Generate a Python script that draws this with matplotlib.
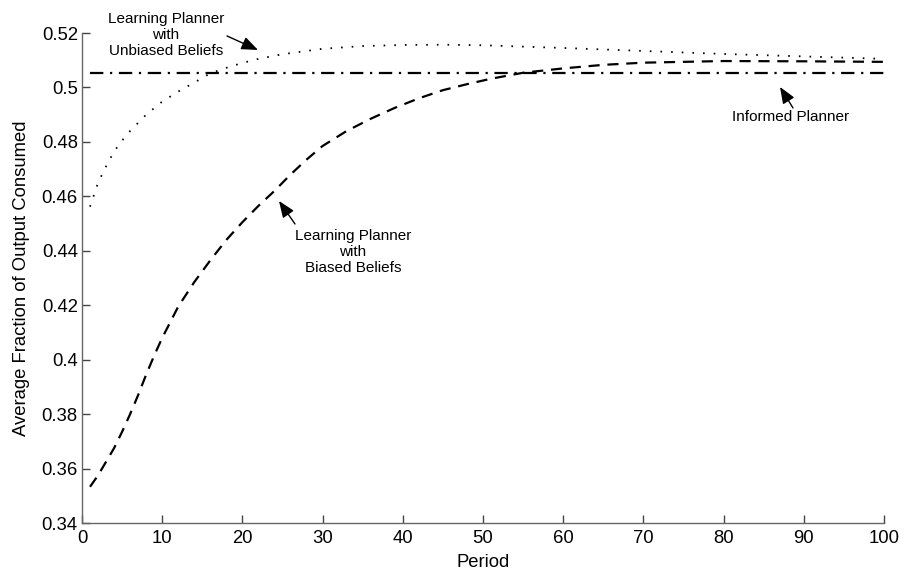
import matplotlib
matplotlib.use("Agg")
import matplotlib.pyplot as plt

plt.rcParams['font.family'] = ['Liberation Sans', 'DejaVu Sans']

# Learning planner with biased beliefs (dashed)
biased_period = [1, 2, 3, 4, 5, 6, 7, 8, 9, 10, 12, 14, 16, 18, 20, 22, 24, 26, 28, 30,
                 33, 36, 39, 42, 45, 48, 51, 55, 60, 65, 70, 80, 90, 100]
biased_value = [0.3533, 0.3575, 0.3625, 0.3675, 0.3735, 0.380, 0.387, 0.3945, 0.4015, 0.408,
                0.4195, 0.4285, 0.4365, 0.4440, 0.4505, 0.4565, 0.4620, 0.4680, 0.4735, 0.4785,
                0.4840, 0.4885, 0.4925, 0.4960, 0.4990, 0.5012, 0.5032, 0.5054, 0.5070, 0.5083,
                0.5091, 0.5097, 0.5096, 0.5094]

# Learning planner with unbiased beliefs (dotted)
unbiased_period = [1, 2, 3, 4, 5, 6, 7, 8, 10, 12, 14, 16, 18, 20, 22, 25, 30, 35, 40,
                   45, 50, 55, 60, 70, 80, 90, 100]
unbiased_value = [0.4562, 0.4650, 0.4710, 0.4765, 0.4805, 0.4840, 0.4870, 0.4900, 0.4948,
                  0.4985, 0.5018, 0.5052, 0.5072, 0.5090, 0.5105, 0.5122, 0.5142, 0.5152,
                  0.5156, 0.5157, 0.5155, 0.5150, 0.5145, 0.5134, 0.5123, 0.5114, 0.5105]

# Informed planner (dash-dot)
informed_period = [1, 100]
informed_value = [0.5052, 0.5052]

x_ticks = [0, 10, 20, 30, 40, 50, 60, 70, 80, 90, 100]
y_ticks = [0.34, 0.36, 0.38, 0.40, 0.42, 0.44, 0.46, 0.48, 0.50, 0.52]
y_tick_labels = ['0.34', '0.36', '0.38', '0.4', '0.42', '0.44', '0.46', '0.48', '0.5', '0.52']

fig = plt.figure(figsize=(9.06, 5.76), dpi=100)
ax = fig.add_axes([82/906, 1 - 523/576, (884-82)/906, (523-33)/576])

ax.plot(biased_period, biased_value, color='black', lw=1.6, linestyle=(0, (5, 3.5)))
ax.plot(unbiased_period, unbiased_value, color='black', lw=1.3, linestyle=(0, (0.9, 5)))
ax.plot(informed_period, informed_value, color='black', lw=1.6, linestyle=(0, (6, 3, 1, 3)))

ax.set_xlim(0, 100)
ax.set_ylim(0.34, 0.52)
ax.set_xticks(x_ticks)
ax.set_yticks(y_ticks)
ax.set_yticklabels(y_tick_labels)

for s in ['top', 'right']:
    ax.spines[s].set_visible(False)
for s in ['left', 'bottom']:
    ax.spines[s].set_color('#666666')
    ax.spines[s].set_linewidth(1.0)
ax.tick_params(direction='in', length=5.5, width=1.0, color='#444444',
               labelsize=13.3)
ax.tick_params(axis='x', pad=5)
ax.tick_params(axis='y', pad=3)

ax.set_xlabel('Period', fontsize=13.3, labelpad=5)
ax.set_ylabel('Average Fraction of Output Consumed', fontsize=13.3, labelpad=8)

arrow = dict(arrowstyle='-|>,head_length=1.0,head_width=0.4', color='black', lw=1.0,
             shrinkA=0, shrinkB=0)

def px(xp, yp):
    return ((xp - 82) / 8.02, 0.34 + (523 - yp) / 2722.0)

ax.annotate('Learning Planner\nwith\nUnbiased Beliefs', xy=px(166, 35), xytext=px(166, 35),
            ha='center', va='center', fontsize=11, linespacing=1.15,
            annotation_clip=False)
ax.annotate('', xy=px(258, 50), xytext=px(227, 36), arrowprops=dict(arrow),
            annotation_clip=False)
ax.annotate('Informed Planner', xy=px(791, 117), xytext=px(791, 117),
            ha='center', va='center', fontsize=11)
ax.annotate('', xy=px(780, 87), xytext=px(793, 108), arrowprops=dict(arrow))
ax.annotate('Learning Planner\nwith\nBiased Beliefs', xy=px(353, 252), xytext=px(353, 252),
            ha='center', va='center', fontsize=11, linespacing=1.15)
ax.annotate('', xy=px(279, 201), xytext=px(295, 224), arrowprops=dict(arrow))

fig.savefig('out.png', dpi=100)
